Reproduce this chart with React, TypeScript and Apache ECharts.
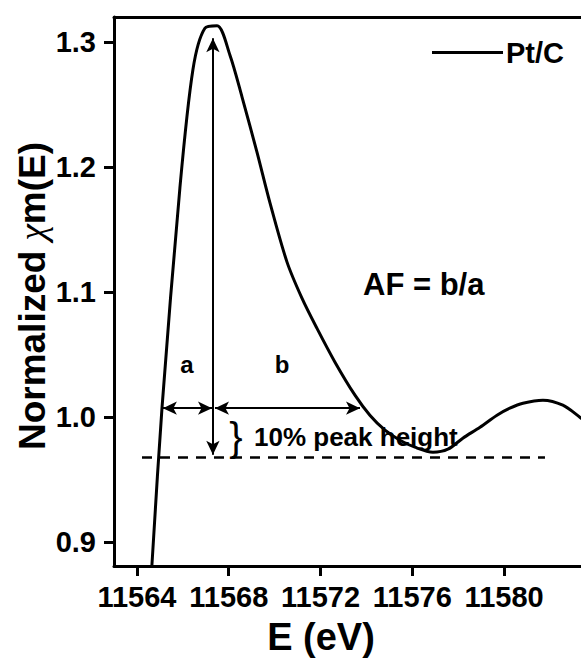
import React, { useEffect, useRef } from 'react';
import * as echarts from 'echarts';

const energy = [11564.65, 11565.09, 11565.87, 11566.44, 11566.96, 11567.49, 11568.05, 11568.58, 11569.23, 11569.8, 11570.54, 11571.19, 11571.84, 11572.63, 11573.5, 11574.15, 11574.81, 11575.46, 11576.11, 11576.9, 11577.55, 11578.2, 11578.95, 11579.69, 11580.25, 11580.82, 11581.69, 11582.56, 11583.3, 11583.74];
const ptc = [0.881, 1.007, 1.183, 1.278, 1.311, 1.313, 1.2896, 1.256, 1.212, 1.1712, 1.124, 1.0952, 1.0712, 1.044, 1.0176, 1.0016, 0.9896, 0.9816, 0.976, 0.972, 0.9744, 0.9832, 0.992, 1.0016, 1.0072, 1.0112, 1.0136, 1.0096, 1.0, 0.994];
const xTicks = [11564, 11568, 11572, 11576, 11580];
const yTicks = [0.9, 1.0, 1.1, 1.2, 1.3];

const peakE = 11567.31;
const peakTop = 1.303;
const baseline = 0.968;
const halfLevel = 1.0072;
const aStart = 11565.13;
const aEnd = 11567.27;
const bStart = 11567.4;
const bEnd = 11573.72;
const dashStart = 11564.22;
const dashEnd = 11581.78;

const FONT = '"Liberation Sans", Arial, sans-serif';

export default function App() {
  const ref = useRef<HTMLDivElement>(null);
  useEffect(() => {
    if (!ref.current) return;
    const chart = echarts.init(ref.current, null, { renderer: 'svg' });
    const data = energy.map((e, i) => [e, ptc[i]]);
    chart.setOption({
      animation: false,
      backgroundColor: '#fff',
      grid: { left: 114, right: 0, top: 17, bottom: 92, containLabel: false },
      legend: {
        data: [{ name: 'Pt/C', icon: 'rect' }],
        left: 427,
        top: 33,
        itemWidth: 71,
        itemHeight: 3,
        itemGap: 0,
        textStyle: { fontFamily: FONT, fontWeight: 'bold', fontSize: 29, color: '#000', padding: [0, 0, 0, -2] },
      },
      xAxis: [
        {
          type: 'value',
          min: 11563,
          max: 11583.35,
          axisLine: { show: true, onZero: false, lineStyle: { color: '#000', width: 3 } },
          axisTick: { show: true, customValues: xTicks, length: 10, lineStyle: { color: '#000', width: 3 } },
          axisLabel: {
            customValues: xTicks,
            margin: 16,
            formatter: (v: number) => String(Math.round(v)),
            fontFamily: FONT,
            fontWeight: 'bold',
            fontSize: 29,
            color: '#000',
          },
          splitLine: { show: false },
        },
        {
          type: 'value',
          position: 'top',
          min: 11563,
          max: 11583.35,
          axisLine: { show: true, onZero: false, lineStyle: { color: '#000', width: 3 } },
          axisTick: { show: false },
          axisLabel: { show: false },
          splitLine: { show: false },
        },
      ],
      yAxis: {
        type: 'value',
        min: 0.881,
        max: 1.32,
        axisLine: { show: true, onZero: false, lineStyle: { color: '#000', width: 3 } },
        axisTick: { show: true, customValues: yTicks, length: 10, lineStyle: { color: '#000', width: 3 } },
        axisLabel: {
          customValues: yTicks,
          margin: 18,
          formatter: (v: number) => v.toFixed(1),
          fontFamily: FONT,
          fontWeight: 'bold',
          fontSize: 29,
          color: '#000',
        },
        splitLine: { show: false },
      },
      series: [
        {
          name: 'Pt/C',
          type: 'line',
          data,
          showSymbol: false,
          symbol: 'none',
          smooth: 0.3,
          clip: true,
          lineStyle: { color: '#000', width: 3 },
          itemStyle: { color: '#000' },
          markLine: {
            silent: true,
            symbol: ['arrow', 'arrow'],
            symbolSize: [10, 14],
            label: { show: false },
            lineStyle: { color: '#000', width: 2, type: 'solid' },
            emphasis: { disabled: true },
            data: [
              [{ coord: [peakE, peakTop] }, { coord: [peakE, baseline + 0.002] }],
              [{ coord: [aStart, halfLevel] }, { coord: [aEnd, halfLevel] }],
              [{ coord: [bStart, halfLevel] }, { coord: [bEnd, halfLevel] }],
              [
                { coord: [dashStart, baseline], symbol: 'none', lineStyle: { type: [10, 8], width: 2.5, color: '#000' } },
                { coord: [dashEnd, baseline], symbol: 'none' },
              ],
            ],
          },
        },
      ],
      graphic: [
        {
          type: 'text',
          x: 187,
          y: 364,
          style: { text: 'a', font: `bold 24px ${FONT}`, fill: '#000', align: 'center', verticalAlign: 'middle' },
        },
        {
          type: 'text',
          x: 282,
          y: 364,
          style: { text: 'b', font: `bold 24px ${FONT}`, fill: '#000', align: 'center', verticalAlign: 'middle' },
        },
        {
          type: 'text',
          x: 363,
          y: 284,
          style: { text: 'AF = b/a', font: `bold 31px ${FONT}`, fill: '#000', align: 'left', verticalAlign: 'middle' },
        },
        {
          type: 'text',
          x: 236,
          y: 437,
          style: { text: '}', font: `normal 40px ${FONT}`, fill: '#000', align: 'center', verticalAlign: 'middle' },
        },
        {
          type: 'text',
          x: 254,
          y: 437,
          style: { text: '10% peak height', font: `bold 26px ${FONT}`, fill: '#000', align: 'left', verticalAlign: 'middle' },
        },
        {
          type: 'text',
          x: 321,
          y: 637,
          style: { text: 'E (eV)', font: `bold 38px ${FONT}`, fill: '#000', align: 'center', verticalAlign: 'middle' },
        },
        {
          type: 'text',
          x: 32,
          y: 296,
          rotation: Math.PI / 2,
          style: {
            text: '{b|Normalized }{c|χ}{b|m(E)}',
            align: 'center',
            verticalAlign: 'middle',
            fill: '#000',
            rich: {
              b: { fontFamily: FONT, fontWeight: 'bold', fontSize: 37, fill: '#000' },
              c: { fontFamily: '"Liberation Serif", serif', fontStyle: 'italic', fontWeight: 'normal', fontSize: 37, fill: '#000' },
            },
          },
        },
      ],
    });
    return () => chart.dispose();
  }, []);
  return <div ref={ref} style={{ width: 581, height: 658, position: 'absolute', left: 0, top: 0 }} />;
}
